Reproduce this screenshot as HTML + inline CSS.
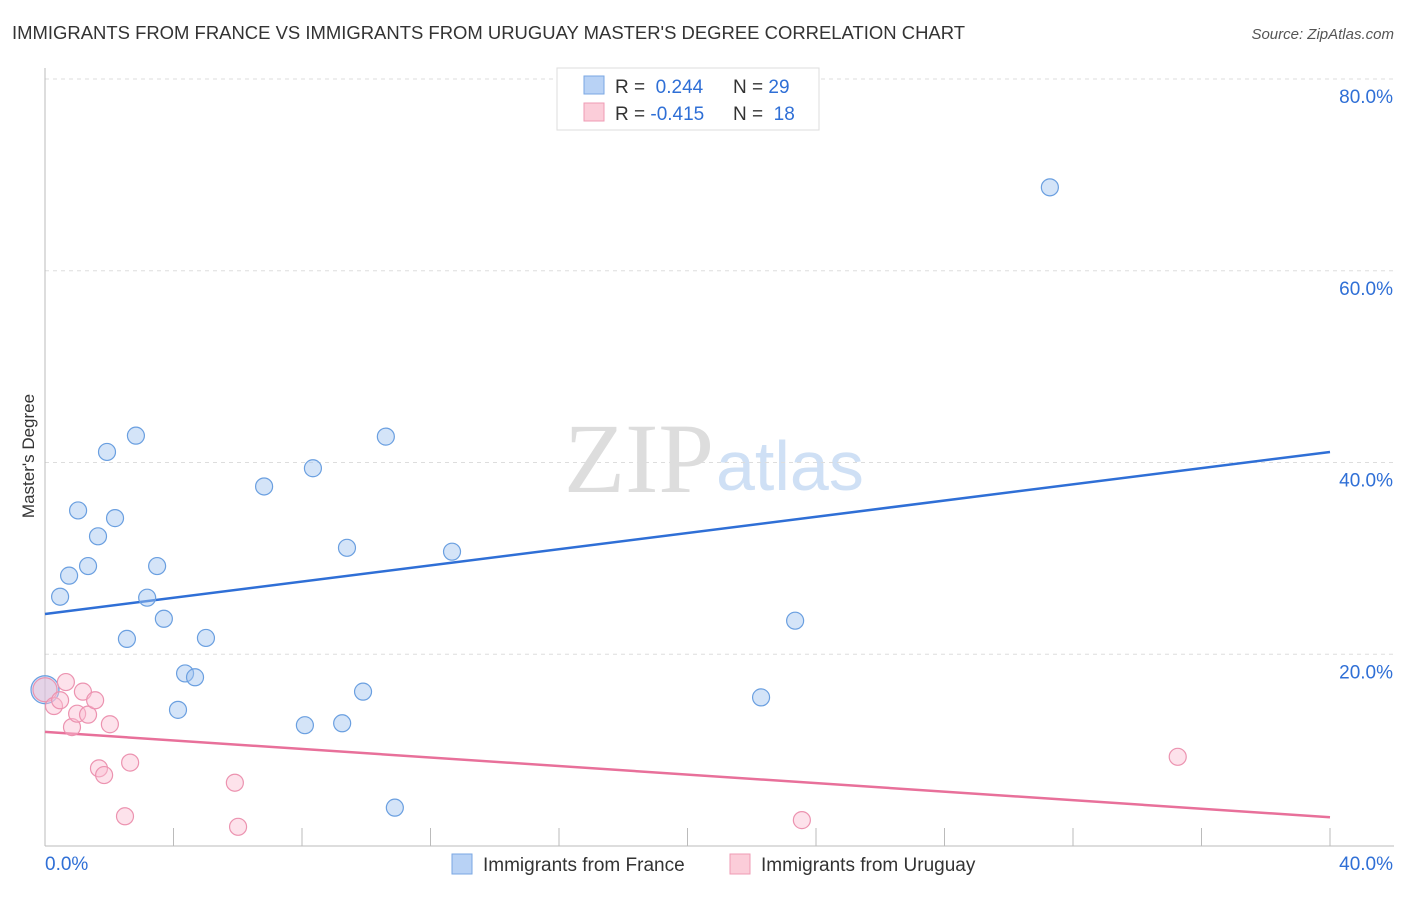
<!DOCTYPE html>
<html><head><meta charset="utf-8"><style>
body{margin:0;background:#fff;font-family:"Liberation Sans",sans-serif;}
</style></head><body>
<svg width="1406" height="892" xmlns="http://www.w3.org/2000/svg">
<text x="12" y="39" font-size="18.5" fill="#333" textLength="953" lengthAdjust="spacingAndGlyphs">IMMIGRANTS FROM FRANCE VS IMMIGRANTS FROM URUGUAY MASTER'S DEGREE CORRELATION CHART</text>
<text x="1394" y="39" font-size="15" fill="#555" font-style="italic" text-anchor="end">Source: ZipAtlas.com</text>
<text x="714" y="492" font-size="100" fill="#ddd" text-anchor="end" font-family="Liberation Serif,serif">ZIP</text>
<text x="716" y="490" font-size="70" fill="#cfe0f5">atlas</text>
<g id="grid"></g>
<g id="axes"></g>
<g id="lines"></g>
<g id="pts"></g>
<text transform="translate(34,456) rotate(-90)" font-size="17" fill="#333" text-anchor="middle">Master's Degree</text>
<g>
<rect x="557" y="68" width="262" height="62" fill="#fff" stroke="#ddd"/>
<rect x="584" y="76" width="20" height="18" fill="#b8d2f5" stroke="#7aa7e3"/>
<rect x="584" y="103" width="20" height="18" fill="#fbcdd9" stroke="#ef9bb4"/>
<text x="615" y="93" font-size="19" fill="#333">R = <tspan fill="#2f6fd6">&#160;0.244</tspan><tspan x="733">N = </tspan><tspan fill="#2f6fd6">29</tspan></text>
<text x="615" y="120" font-size="19" fill="#333">R = <tspan fill="#2f6fd6">-0.415</tspan><tspan x="733">N = </tspan><tspan fill="#2f6fd6">&#160;18</tspan></text>
</g>
<g>
<rect x="452" y="854" width="20" height="20" fill="#b8d2f5" stroke="#7aa7e3"/>
<text x="483" y="871" font-size="19" fill="#333">Immigrants from France</text>
<rect x="730" y="854" width="20" height="20" fill="#fbcdd9" stroke="#ef9bb4"/>
<text x="761" y="871" font-size="19" fill="#333">Immigrants from Uruguay</text>
</g>
</svg>
<script>
const yTicks=[20,40,60,80];
const xTickLabels=["0.0%","40.0%"];
const franceX=[0,0.47,0.75,1.03,1.34,1.65,1.93,2.18,2.55,2.83,3.18,3.49,3.70,4.14,4.36,4.67,5.01,6.82,8.09,8.34,9.25,9.40,9.90,10.61,10.89,12.67,22.29,23.35,31.28];
const franceY=[16.3,26.0,28.2,35.0,29.2,32.3,41.1,34.2,21.6,42.8,25.9,29.2,23.7,14.2,18.0,17.6,21.7,37.5,12.6,39.4,12.8,31.1,16.1,42.7,4.0,30.7,15.5,23.5,68.7];
const uruguayX=[0,0.28,0.47,0.65,0.84,1.0,1.18,1.34,1.56,1.68,1.84,2.02,2.49,2.65,5.91,6.01,23.56,35.26];
const uruguayY=[16.3,14.6,15.2,17.1,12.4,13.8,16.1,13.7,15.2,8.1,7.4,12.7,3.1,8.7,6.6,2.0,2.7,9.3];
const franceTrend=[24.2,41.1];
const uruguayTrend=[11.9,3.0];
const NS="http://www.w3.org/2000/svg";
const X=v=>45+v/40*1285, Y=v=>846-v/20*191.75;
function mk(p,t,a){const e=document.createElementNS(NS,t);for(const k in a)e.setAttribute(k,a[k]);document.getElementById(p).appendChild(e);return e;}
yTicks.forEach(t=>{
 const l=mk('grid','line',{x1:45,x2:1394,y1:Y(t),y2:Y(t),stroke:'#ddd','stroke-dasharray':'4,4'});
 
 
 const tx=mk('grid','text',{x:1393,y:Y(t)+24,'font-size':19,fill:'#2f6fd6','text-anchor':'end'});
 tx.textContent=t.toFixed(1)+'%';
 
 
});
mk('axes','line',{x1:45,x2:45,y1:68,y2:846,stroke:'#bbb'});
mk('axes','line',{x1:45,x2:1394,y1:846,y2:846,stroke:'#bbb'});
for(let i=0;i<=10;i++){mk('axes','line',{x1:X(i*4),x2:X(i*4),y1:828,y2:846,stroke:'#bbb'});}
const l0=mk('axes','text',{x:45,y:870,'font-size':19,fill:'#2f6fd6'});l0.textContent=xTickLabels[0];


const l1=mk('axes','text',{x:1393,y:870,'font-size':19,fill:'#2f6fd6','text-anchor':'end'});l1.textContent=xTickLabels[1];


const tb=mk('lines','line',{x1:X(0),y1:Y(franceTrend[0]),x2:X(40),y2:Y(franceTrend[1]),stroke:'#2f6fd6','stroke-width':2.5});


const tp=mk('lines','line',{x1:X(0),y1:Y(uruguayTrend[0]),x2:X(40),y2:Y(uruguayTrend[1]),stroke:'#e8709a','stroke-width':2.5});


franceX.forEach((x,i)=>{
 const c=mk('pts','circle',{cx:X(x),cy:Y(franceY[i]),r:i===0?14:8.5,fill:'rgba(160,195,240,0.45)',stroke:'#6a9fe0','stroke-width':1.2});
 
 
});
uruguayX.forEach((x,i)=>{
 const c=mk('pts','circle',{cx:X(x),cy:Y(uruguayY[i]),r:i===0?12:8.5,fill:'rgba(250,190,210,0.45)',stroke:'#ec93b0','stroke-width':1.2});
 
 
});
</script>
</body></html>
